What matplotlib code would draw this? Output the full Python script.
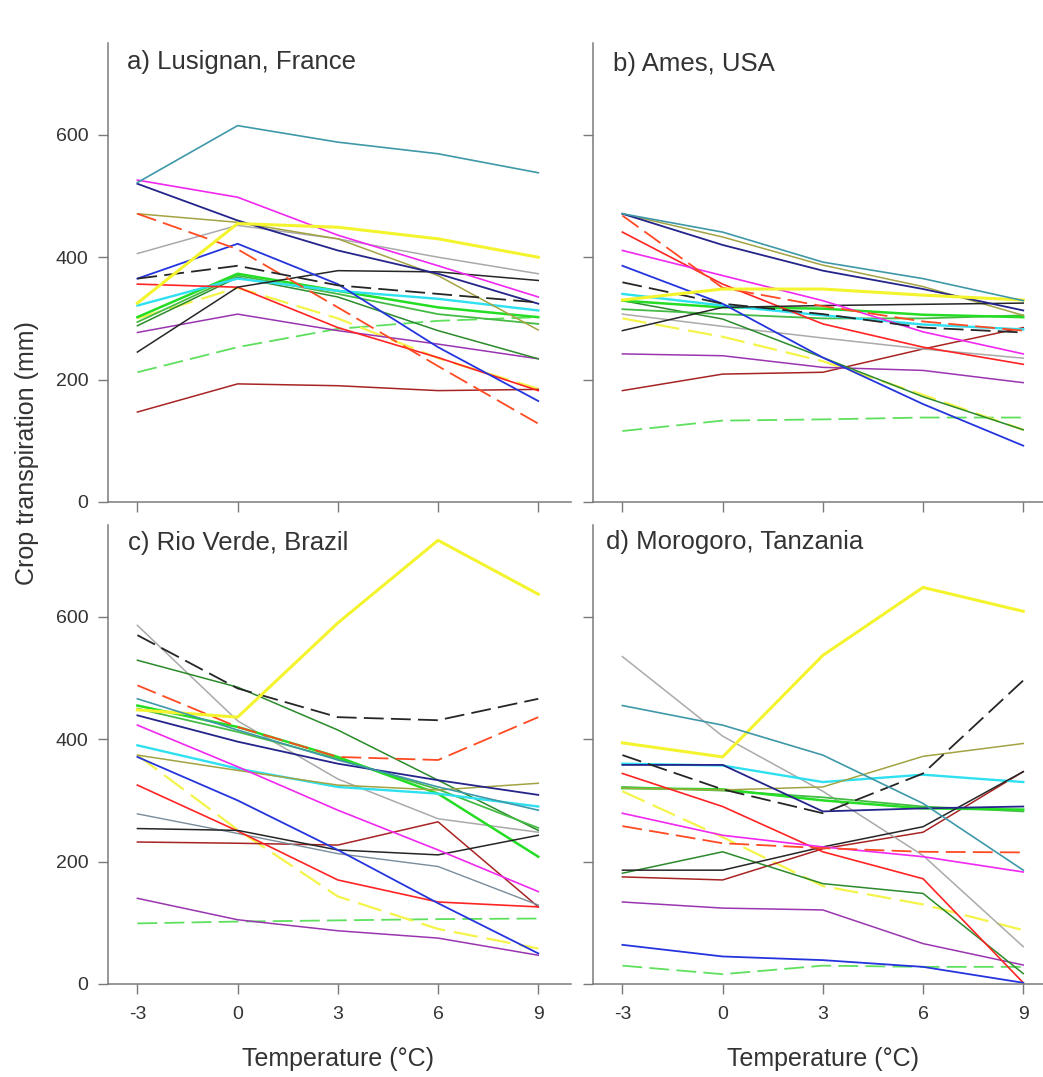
import matplotlib.pyplot as plt

plt.rcParams['font.family'] = ['Liberation Sans', 'DejaVu Sans']
plt.rcParams['axes.unicode_minus'] = False

temps = [-3, 0, 3, 6, 9]
titulos = ['a) Lusignan, France', 'b) Ames, USA', 'c) Rio Verde, Brazil', 'd) Morogoro, Tanzania']

# transpiration (mm) per model, one list per site: Lusignan, Ames, Rio Verde, Morogoro
teal = [[522, 615, 588, 569, 538], [471, 441, 392, 365, 329], [466, 415, 366, 322, 284], [455, 423, 374, 295, 186]]
magenta = [[526, 498, 436, 386, 335], [411, 370, 329, 278, 242], [423, 355, 284, 219, 151], [279, 243, 224, 208, 183]]
navy = [[520, 460, 411, 373, 324], [471, 420, 378, 348, 313], [439, 396, 360, 333, 309], [358, 358, 282, 287, 290]]
olive = [[471, 457, 430, 370, 281], [471, 433, 387, 352, 305], [374, 349, 325, 317, 328], [320, 317, 322, 372, 393]]
amarillo = [[325, 455, 449, 430, 400], [330, 348, 348, 338, 330], [448, 436, 590, 725, 637], [394, 371, 537, 648, 609]]
gris = [[406, 452, 430, 400, 373], [307, 287, 268, 250, 235], [586, 430, 335, 270, 248], [535, 405, 315, 210, 61]]
gris2 = [None, None, [278, 246, 213, 192, 129], None]
azul = [[365, 422, 356, 253, 165], [386, 324, 236, 160, 92], [371, 300, 219, 132, 50], [64, 45, 39, 28, 2]]
negro_disc = [[365, 386, 354, 340, 326], [359, 324, 307, 285, 277], [570, 483, 436, 431, 466], [374, 318, 279, 344, 496]]
rojo_disc = [[471, 413, 318, 222, 128], [468, 350, 320, 295, 280], [488, 420, 371, 366, 436], [258, 230, 222, 216, 215]]
negro = [[245, 351, 378, 376, 362], [280, 318, 321, 323, 325], [254, 251, 219, 211, 243], [186, 186, 224, 257, 347]]
rojo = [[356, 351, 285, 236, 182], [441, 356, 291, 253, 225], [325, 250, 170, 134, 126], [344, 290, 216, 172, 2]]
cian = [[321, 365, 345, 332, 313], [340, 321, 305, 290, 282], [390, 352, 322, 311, 290], [360, 357, 330, 342, 330]]
lima = [[302, 373, 345, 318, 302], [329, 318, 316, 306, 302], [455, 420, 371, 311, 208], [320, 318, 300, 287, 285]]
verde = [[294, 370, 340, 307, 291], [315, 307, 300, 300, 305], [450, 412, 368, 318, 255], [322, 316, 305, 290, 282]]
verde_osc = [[288, 367, 335, 280, 234], [329, 299, 236, 172, 118], [529, 485, 415, 333, 251], [181, 216, 164, 148, 17]]
morado = [[277, 307, 280, 258, 234], [242, 239, 220, 215, 195], [140, 105, 87, 75, 47], [134, 124, 121, 66, 31]]
verde_disc = [[212, 253, 283, 296, 302], [116, 133, 135, 138, 138], [99, 102, 104, 106, 107], [30, 16, 30, 28, 28]]
marron = [[147, 193, 190, 182, 184], [182, 209, 212, 250, 285], [232, 230, 227, 265, 126], [175, 170, 221, 248, 347]]
amarillo_disc = [[300, 350, 300, 235, 185], [300, 270, 230, 175, 118], [374, 252, 143, 90, 58], [315, 240, 160, 130, 88]]

# (datos, color, discontinua, grosor)
series = [
    (verde_disc, '#5ee05e', True, 1.3),
    (amarillo_disc, '#f4f44a', True, 1.6),
    (marron, '#a82424', False, 1.1),
    (morado, '#9a35b0', False, 1.1),
    (gris2, '#7a8c9a', False, 1.0),
    (gris, '#aaaaaa', False, 1.1),
    (verde_osc, '#2b8a2b', False, 1.1),
    (verde, '#45bb45', False, 1.3),
    (lima, '#25dd25', False, 1.8),
    (cian, '#2ee0f0', False, 1.7),
    (olive, '#a3a343', False, 1.1),
    (rojo, '#ff2424', False, 1.2),
    (negro, '#262626', False, 1.1),
    (azul, '#2535dd', False, 1.3),
    (magenta, '#f028f0', False, 1.2),
    (navy, '#24248a', False, 1.3),
    (rojo_disc, '#ff4a22', True, 1.3),
    (negro_disc, '#262626', True, 1.3),
    (amarillo, '#f4f42e', False, 2.2),
    (teal, '#3f98a8', False, 1.2),
]

W, H = 1043, 1077
esquinas = [(108, 43), (593, 43), (108, 525), (593, 525)]
pos_titulo = [(0.041, 0.943), (0.043, 0.940), (0.043, 0.946), (0.027, 0.948)]
gris_eje = '#7a7a7a'
texto = '#333333'

fig = plt.figure(figsize=(W / 100, H / 100), dpi=100)

for i, (x0, y0) in enumerate(esquinas):
    ax = fig.add_axes([x0 / W, 1 - (y0 + 459) / H, 463 / W, 459 / H])
    for datos, color, disc, lw in series:
        if datos[i] is None:
            continue
        if disc:
            ax.plot(temps, datos[i], color=color, lw=lw, dashes=(11, 4))
        else:
            ax.plot(temps, datos[i], color=color, lw=lw)

    ax.set_xlim(-3.88, 9.98)
    ax.set_ylim(0, 750)
    ax.set_xticks(temps)
    ax.set_yticks([0, 200, 400, 600])
    for lado in ['top', 'right']:
        ax.spines[lado].set_visible(False)
    for lado in ['left', 'bottom']:
        ax.spines[lado].set_color(gris_eje)
        ax.spines[lado].set_linewidth(1.1)
    ax.tick_params(direction='out', length=7, width=1.0, color=gris_eje,
                   labelsize=14, labelcolor=texto, pad=7)
    if i % 2 == 1:
        ax.set_yticklabels([])
    if i < 2:
        ax.set_xticklabels([])
    else:
        ax.tick_params(axis='x', pad=9)
        ax.text(3, -0.163, 'Temperature (°C)', transform=ax.get_xaxis_transform(),
                ha='center', va='center', fontsize=18, color=texto)
    tx, ty = pos_titulo[i]
    ax.text(tx, ty, titulos[i], transform=ax.transAxes, ha='left', va='baseline',
            fontsize=18.5, color=texto)

fig.text(27 / W, 1 - 453 / H, 'Crop transpiration (mm)', rotation=90,
         ha='center', va='center', fontsize=18, color=texto)

fig.savefig('out.png', dpi=100, facecolor='white')
